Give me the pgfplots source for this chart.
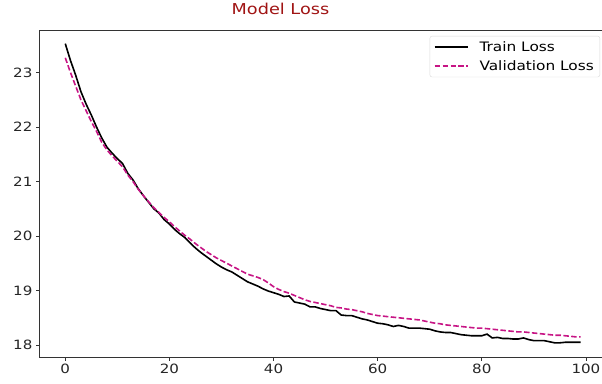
\documentclass[border=0pt]{standalone}
\usepackage{fontspec}
\setmainfont{DejaVu Sans}[FakeStretch=1.18]
\usepackage{pgfplots}
\pgfplotsset{compat=1.18}
\usepackage{pgfplotstable}
\definecolor{titlered}{RGB}{160,20,20}
\definecolor{valc}{RGB}{199,21,133}
\pgfplotstableread{
ep train val
0 23.53 23.27
1 23.22 23.00
2 22.95 22.75
3 22.65 22.50
4 22.42 22.30
5 22.22 22.10
6 22.00 21.92
7 21.80 21.72
8 21.63 21.58
9 21.52 21.47
10 21.42 21.37
11 21.33 21.27
12 21.15 21.12
13 21.03 21.00
14 20.87 20.86
15 20.74 20.74
16 20.62 20.63
17 20.50 20.52
18 20.42 20.43
19 20.30 20.34
20 20.22 20.26
21 20.12 20.17
22 20.04 20.09
23 19.97 20.01
24 19.87 19.94
25 19.78 19.86
26 19.70 19.79
27 19.63 19.72
28 19.56 19.66
29 19.49 19.60
30 19.43 19.55
31 19.38 19.50
32 19.34 19.45
33 19.28 19.40
34 19.22 19.35
35 19.16 19.30
36 19.12 19.27
37 19.08 19.24
38 19.03 19.20
39 18.99 19.14
40 18.96 19.07
41 18.93 19.02
42 18.89 18.98
43 18.90 18.95
44 18.79 18.91
45 18.77 18.87
46 18.75 18.83
47 18.70 18.80
48 18.70 18.78
49 18.67 18.76
50 18.65 18.74
51 18.63 18.72
52 18.63 18.69
53 18.55 18.68
54 18.54 18.66
55 18.54 18.65
56 18.51 18.63
57 18.48 18.61
58 18.46 18.58
59 18.43 18.56
60 18.40 18.54
61 18.39 18.53
62 18.37 18.52
63 18.34 18.51
64 18.36 18.50
65 18.34 18.49
66 18.31 18.48
67 18.31 18.47
68 18.31 18.46
69 18.30 18.44
70 18.29 18.42
71 18.26 18.40
72 18.24 18.39
73 18.23 18.37
74 18.23 18.36
75 18.21 18.35
76 18.19 18.34
77 18.18 18.33
78 18.17 18.32
79 18.17 18.31
80 18.17 18.31
81 18.20 18.30
82 18.13 18.29
83 18.14 18.28
84 18.12 18.27
85 18.12 18.26
86 18.11 18.25
87 18.11 18.24
88 18.13 18.24
89 18.10 18.23
90 18.08 18.22
91 18.08 18.21
92 18.08 18.20
93 18.06 18.19
94 18.04 18.18
95 18.04 18.18
96 18.05 18.17
97 18.05 18.16
98 18.05 18.15
99 18.05 18.15
}\loss
\begin{document}
\begin{tikzpicture}
\begin{axis}[
  scale only axis, width=567pt, height=327pt,
  xmin=-4.95, xmax=103.95, ymin=17.78, ymax=23.78,
  xtick={0,20,...,100}, ytick={18,...,23},
  tick align=outside, xtick pos=left, ytick pos=left,
  major tick length=3.5pt,
  tick style={black!80, line width=0.8pt},
  axis line style={black!80, line width=0.8pt},
  ticklabel style={font=\fontsize{12.8}{14}\selectfont, text=black!85},
  /pgf/number format/assume math mode=true,
  title={Model Loss},
  title style={at={(axis description cs:0.425,1)}, anchor=base, yshift=9pt,
    font=\fontsize{15}{17}\selectfont, text=titlered},
  legend style={at={(axis description cs:1,1)}, anchor=north east,
    xshift=-6.5pt, yshift=-6pt, draw=black!15, rounded corners=2pt,
    font=\fontsize{13}{15}\selectfont, row sep=4pt, column sep=9pt,
    inner xsep=4pt, inner ysep=3pt},
  legend cell align=left,
  legend image code/.code={\draw[#1] (0pt,0pt) -- (33pt,0pt);},
]
\addplot[black, line width=1.6pt] table[x=ep, y=train] {\loss};
\addlegendentry{Train Loss}
\addplot[valc, line width=1.6pt, dash pattern=on 5.5pt off 2.4pt] table[x=ep, y=val] {\loss};
\addlegendentry{Validation Loss}
\coordinate (bl) at (rel axis cs:0,0);
\coordinate (tr) at (rel axis cs:1,1);
\end{axis}
\pgfresetboundingbox
\path ([xshift=-39.5pt, yshift=-26pt]bl) rectangle ([xshift=-4.5pt, yshift=30pt]tr);
\end{tikzpicture}
\end{document}
